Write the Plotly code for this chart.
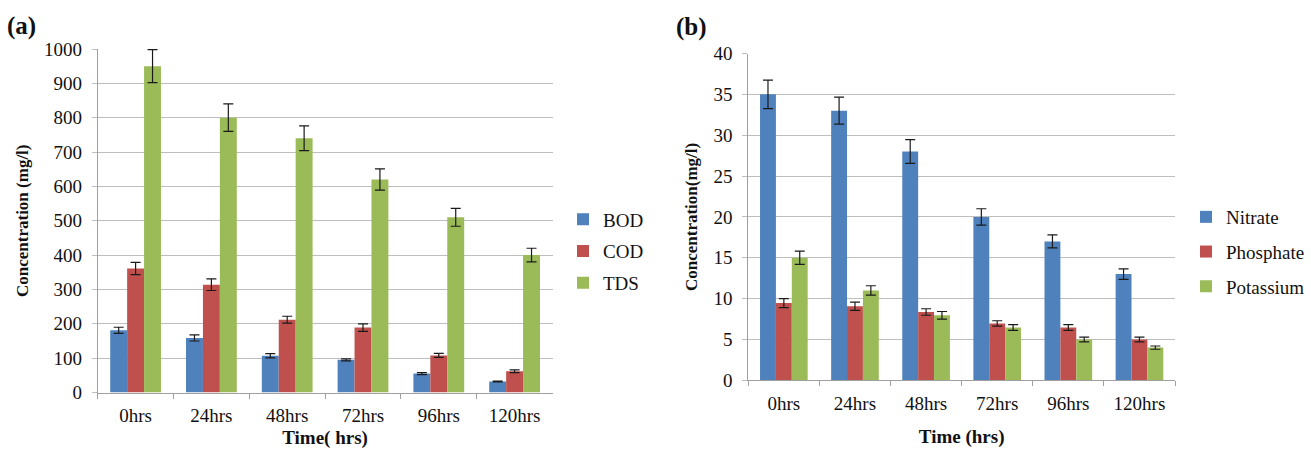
import plotly.graph_objects as go

categories = ["0hrs", "24hrs", "48hrs", "72hrs", "96hrs", "120hrs"]

# Panel (a)
bod = [181, 159, 107, 95, 55, 32]
bod_err = [9, 9, 6, 3, 3, 1.2]
cod = [361, 314, 212, 189, 108, 62]
cod_err = [18, 17, 10, 11, 6, 4]
tds = [950, 800, 740, 620, 510, 400]
tds_err = [48, 40, 36, 31, 26, 20]

# Panel (b)
nitrate = [35, 33, 28, 20, 17, 13]
nitrate_err = [1.75, 1.65, 1.45, 1.0, 0.8, 0.64]
phosphate = [9.45, 9.06, 8.36, 6.96, 6.47, 5.0]
phosphate_err = [0.55, 0.5, 0.4, 0.33, 0.35, 0.29]
potassium = [15, 11, 7.95, 6.47, 5.0, 4.0]
potassium_err = [0.8, 0.57, 0.47, 0.35, 0.29, 0.2]

BLUE, RED, GREEN = "#4F81BD", "#C0504D", "#9BBB59"
FONT = "Liberation Serif"
W, H = 1311, 449


def f(size, bold=False):
    return dict(family=FONT, size=size, color="#111",
                weight="bold" if bold else "normal")


fig = go.Figure()


def add_bar(name, y, err, color, xa, ya, legend):
    fig.add_trace(go.Bar(
        x=categories, y=y, name=name, xaxis=xa, yaxis=ya, legend=legend,
        legendgroup=name,
        marker=dict(color=color, line=dict(width=0)),
        error_y=dict(type="data", array=err, visible=True, color="#1a1a1a",
                     thickness=1.2, width=5),
    ))


add_bar("BOD", bod, bod_err, BLUE, "x", "y", "legend")
add_bar("COD", cod, cod_err, RED, "x", "y", "legend")
add_bar("TDS", tds, tds_err, GREEN, "x", "y", "legend")
add_bar("Nitrate", nitrate, nitrate_err, BLUE, "x2", "y2", "legend2")
add_bar("Phosphate", phosphate, phosphate_err, RED, "x2", "y2", "legend2")
add_bar("Potassium", potassium, potassium_err, GREEN, "x2", "y2", "legend2")

GRID = "#BEBEBE"
LINE = "#A0A0A0"


def xaxis(domain, anchor, title, standoff):
    return dict(domain=domain, anchor=anchor, type="category",
                showline=True, linecolor=LINE, linewidth=1,
                ticks="outside", tickson="boundaries", ticklen=5,
                tickcolor=LINE, showgrid=False, automargin=False,
                tickfont=f(19), ticklabelstandoff=6,
                title=dict(text=title, standoff=standoff, font=f(19, True)))


def yaxis(domain, anchor, rng, dtick, title, standoff):
    return dict(domain=domain, anchor=anchor, range=rng, dtick=dtick,
                showline=True, linecolor=LINE, linewidth=1,
                ticks="outside", ticklen=5, tickcolor=GRID,
                showgrid=True, gridcolor=GRID, gridwidth=1,
                zeroline=False, automargin=False,
                tickfont=f(19), ticklabelstandoff=6,
                title=dict(text=title, standoff=standoff, font=f(17, True)))


fig.update_layout(
    template="none",
    width=W, height=H,
    margin=dict(l=0, r=0, t=0, b=0),
    paper_bgcolor="white", plot_bgcolor="white",
    barmode="group", bargap=0.33, bargroupgap=0,
    font=f(18),
    xaxis=xaxis([97.7 / W, 552.5 / W], "y", "Time( hrs)", 8),
    yaxis=yaxis([1 - 392.5 / H, 1 - 49 / H], "x", [0, 1000], 100,
                "Concentration (mg/l)", 10),
    xaxis2=xaxis([748.3 / W, 1175 / W], "y2", "Time (hrs)", 16),
    yaxis2=yaxis([1 - 380.3 / H, 1 - 53.5 / H], "x2", [0, 40], 5,
                 "Concentration(mg/l)", 11),
    legend=dict(x=563 / W, y=1 - 251.5 / H, xanchor="left", yanchor="middle",
                font=f(19), tracegroupgap=4, bgcolor="rgba(0,0,0,0)"),
    legend2=dict(x=1186 / W, y=1 - 252 / H, xanchor="left", yanchor="middle",
                 font=f(19), tracegroupgap=7, bgcolor="rgba(0,0,0,0)"),
    annotations=[
        dict(text="<b>(a)</b>", x=5 / W, y=1 - 26 / H, xref="paper", yref="paper",
             xanchor="left", yanchor="middle", showarrow=False, font=f(25)),
        dict(text="<b>(b)</b>", x=674 / W, y=1 - 27 / H, xref="paper", yref="paper",
             xanchor="left", yanchor="middle", showarrow=False, font=f(25)),
    ],
)

fig.write_html("out.html", config={"displayModeBar": False},
               post_script="document.body.style.margin='0';"
                           "document.body.style.padding='0';")
